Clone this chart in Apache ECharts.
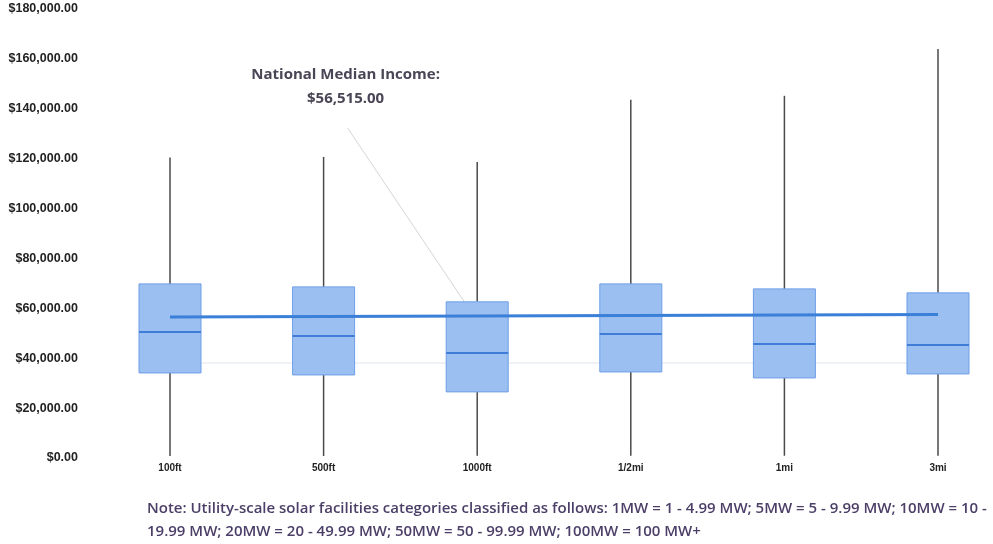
<!DOCTYPE html>
<html>
<head>
<meta charset="utf-8">
<script src="https://cdn.jsdelivr.net/npm/echarts@6/dist/echarts.min.js"></script>
<style>
html,body{margin:0;padding:0;background:#fff;}
#chart{width:993px;height:544px;}
</style>
</head>
<body>
<div id="chart"></div>
<script>
// ---- data ----
var categories = ['100ft', '500ft', '1000ft', '1/2mi', '1mi', '3mi'];
var whiskerLow  = [800, 800, 900, 900, 900, 900];
var q1          = [34100, 33300, 26500, 34500, 32100, 33700];
var medians     = [50500, 48900, 42100, 49700, 45700, 45300];
var q3          = [69800, 68600, 62600, 69800, 67800, 66200];
var whiskerHigh = [120500, 120700, 118700, 143600, 145200, 164000];
var nationalMedian = [56515, 56700, 56900, 57100, 57300, 57500];
var yTicks = [0, 20000, 40000, 60000, 80000, 100000, 120000, 140000, 160000, 180000];
var annotationTitle = 'National Median Income:';
var annotationValue = '$56,515.00';
var noteLines = [
  'Note: Utility-scale solar facilities categories classified as follows: 1MW = 1 - 4.99 MW; 5MW = 5 - 9.99 MW; 10MW = 10 -',
  '19.99 MW; 20MW = 20 - 49.99 MW; 50MW = 50 - 99.99 MW; 100MW = 100 MW+'
];

var boxData = categories.map(function (c, i) {
  return [i, whiskerLow[i], q1[i], medians[i], q3[i], whiskerHigh[i]];
});

function fmtMoney(v) {
  return '$' + v.toLocaleString('en-US', {minimumFractionDigits: 2, maximumFractionDigits: 2});
}

var chart = echarts.init(document.getElementById('chart'), null, {renderer: 'canvas'});
var labelFont = '"Liberation Sans", sans-serif';

var option = {
  animation: false,
  backgroundColor: '#ffffff',
  grid: {left: 170, right: 55, top: 9, bottom: 86, containLabel: false},
  xAxis: {
    type: 'category',
    data: categories,
    boundaryGap: false,
    axisLine: {show: false},
    axisTick: {show: false},
    splitLine: {show: false},
    axisLabel: {color: '#222', fontFamily: labelFont, fontWeight: 'bold', fontSize: 10, margin: 5}
  },
  yAxis: {
    type: 'value',
    min: 0, max: 180000, interval: 20000,
    axisLine: {show: false},
    axisTick: {show: false},
    splitLine: {show: false},
    axisLabel: {
      color: '#222', fontFamily: labelFont, fontWeight: 'bold', fontSize: 12.5, margin: 92,
      formatter: function (v) { return fmtMoney(v); }
    }
  },
  series: [
    {
      type: 'custom',
      name: 'boxes',
      data: boxData,
      encode: {x: 0, y: [1, 2, 3, 4, 5]},
      z: 2,
      renderItem: function (params, api) {
        var i = api.value(0);
        var pLow = api.coord([i, api.value(1)]);
        var pQ1 = api.coord([i, api.value(2)]);
        var pMed = api.coord([i, api.value(3)]);
        var pQ3 = api.coord([i, api.value(4)]);
        var pHigh = api.coord([i, api.value(5)]);
        var halfW = 31;
        var x = pQ1[0];
        return {
          type: 'group',
          children: [
            {type: 'line', shape: {x1: x, y1: pHigh[1], x2: x, y2: pQ3[1]}, style: {stroke: '#4a4a4a', lineWidth: 1.5}},
            {type: 'line', shape: {x1: x, y1: pQ1[1], x2: x, y2: pLow[1]}, style: {stroke: '#4a4a4a', lineWidth: 1.5}},
            {type: 'rect', shape: {x: x - halfW, y: pQ3[1], width: halfW * 2, height: pQ1[1] - pQ3[1]},
              style: {fill: '#9cbff1', stroke: '#6d9ee6', lineWidth: 1}},
            {type: 'line', shape: {x1: x - halfW, y1: pMed[1], x2: x + halfW, y2: pMed[1]}, style: {stroke: '#3f7cd8', lineWidth: 2}}
          ]
        };
      }
    },
    {
      type: 'line',
      name: 'National Median Income',
      data: nationalMedian,
      z: 3,
      symbol: 'none',
      lineStyle: {color: '#3a7fd8', width: 3},
      markLine: {
        silent: true,
        symbol: 'none',
        label: {show: false},
        lineStyle: {color: '#e8ecf2', width: 1.5, type: 'solid'},
        data: [{yAxis: 38000}],
        z: 1
      }
    }
  ]
};
chart.setOption(option);

// annotation: label and leader line anchored to data coordinates
var anchor = chart.convertToPixel({gridIndex: 0}, [2, nationalMedian[0]]);
var textX = chart.convertToPixel({gridIndex: 0}, [1, 0])[0] + 22;
chart.setOption({
  graphic: [
    {type: 'line', shape: {x1: textX + 2, y1: 128, x2: anchor[0] - 6, y2: anchor[1] - 5},
      style: {stroke: '#d4d6da', lineWidth: 1}, z: 1},
    {type: 'text', x: textX, y: 75, style: {text: annotationTitle, align: 'center', verticalAlign: 'middle',
      fill: '#4a4656', font: 'bold 15px "Open Sans", sans-serif'}, z: 10},
    {type: 'text', x: textX, y: 99, style: {text: annotationValue, align: 'center', verticalAlign: 'middle',
      fill: '#4a4656', font: 'bold 15px "Open Sans", sans-serif'}, z: 10},
    {type: 'text', x: 147, y: 509, style: {text: noteLines[0], fill: '#4b3f68', verticalAlign: 'middle',
      font: '600 15px "Open Sans", sans-serif'}},
    {type: 'text', x: 147, y: 532, style: {text: noteLines[1], fill: '#4b3f68', verticalAlign: 'middle',
      font: '600 15px "Open Sans", sans-serif'}}
  ]
});
</script>
</body>
</html>
